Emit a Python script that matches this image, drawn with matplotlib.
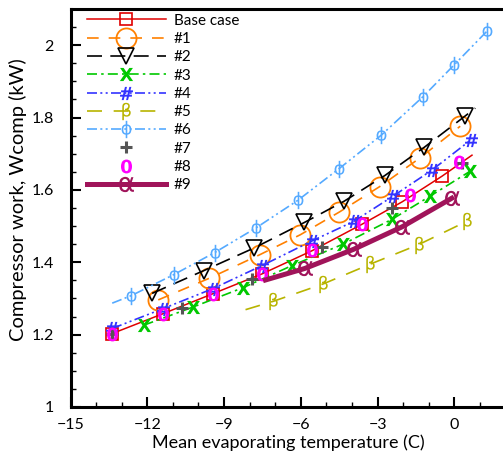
import numpy as np
import matplotlib
matplotlib.use("Agg")
import matplotlib.pyplot as plt
from matplotlib.ticker import MultipleLocator

plt.rcParams['font.family'] = ['Lato', 'DejaVu Sans']
plt.rcParams['mathtext.fontset'] = 'custom'
plt.rcParams['mathtext.rm'] = 'DejaVu Sans'
plt.rcParams['mathtext.bf'] = 'DejaVu Sans:bold'
plt.rcParams['mathtext.it'] = 'DejaVu Sans:italic'

# data (x = mean evaporating temperature, y = compressor work)
base_x = [-13.37, -11.38, -9.44, -7.51, -5.56, -3.61, -2.04, -0.48, 0.69]
base_y = [1.203, 1.258, 1.313, 1.368, 1.432, 1.505, 1.567, 1.638, 1.696]

c1_x = [-11.57, -9.57, -7.60, -6.02, -4.49, -2.92, -1.33, 0.23]
c1_y = [1.296, 1.356, 1.421, 1.476, 1.539, 1.609, 1.689, 1.776]

c2_x = [-11.81, -9.79, -7.81, -5.86, -4.30, -2.71, -1.17, 0.40, 0.82]
c2_y = [1.314, 1.377, 1.440, 1.510, 1.569, 1.640, 1.718, 1.803, 1.826]

c3_x = [-12.14, -10.22, -8.25, -6.34, -4.35, -2.43, -0.94, 0.625]
c3_y = [1.226, 1.276, 1.330, 1.391, 1.450, 1.519, 1.583, 1.652]

c4_x = [-13.37, -11.38, -9.44, -7.51, -5.56, -3.93, -2.39, -0.87, 0.66]
c4_y = [1.217, 1.272, 1.327, 1.391, 1.459, 1.513, 1.583, 1.655, 1.739]

c5_x = [-8.16, -7.08, -5.13, -3.28, -1.39, 0.51]
c5_y = [1.269, 1.292, 1.340, 1.395, 1.449, 1.514]

c6_x = [-13.37, -12.62, -10.96, -9.36, -7.75, -6.12, -4.50, -2.86, -1.22, 0.0, 1.28]
c6_y = [1.287, 1.308, 1.366, 1.427, 1.495, 1.571, 1.659, 1.751, 1.858, 1.946, 2.039]

c7_x = [-13.37, -10.64, -7.90, -5.17, -2.43, 0.30]
c7_y = [1.203, 1.275, 1.354, 1.441, 1.549, 1.675]

c8_x = [-13.37, -11.38, -9.44, -7.51, -5.56, -3.61, -1.72, 0.20]
c8_y = [1.203, 1.258, 1.313, 1.368, 1.434, 1.505, 1.585, 1.677]

c9_x = [-7.38, -5.84, -3.93, -2.04, -0.10]
c9_y = [1.351, 1.383, 1.436, 1.498, 1.577]

fig = plt.figure(figsize=(5.03, 4.57), dpi=100)
ax = fig.add_axes([70.5 / 503, 50 / 457, 435 / 503, 398 / 457])

ax.plot(base_x, base_y, color='#e00000', lw=1.1, marker='s', ms=8, mfc='none',
        mec='#e00000', mew=1.2, markevery=list(range(8)), label='Base case')
ax.plot(c1_x, c1_y, color='#ff8000', lw=1.2, ls=(0, (7, 6)), marker='o', ms=14.5,
        mfc='none', mec='#ff8000', mew=1.3, label='#1')
ax.plot(c2_x, c2_y, color='black', lw=1.2, ls=(0, (9, 5)), marker='v', ms=12,
        mfc='none', mec='black', mew=1.2, markevery=list(range(8)), label='#2')
ax.plot(c3_x, c3_y, color='#00c800', lw=1.2, ls=(0, (6, 2.5, 1.5, 2.5)),
        marker='$\\mathbf{X}$', ms=9.5, mec='none', mfc='#00c800', label='#3')
ax.plot(c4_x, c4_y, color='#3333ff', lw=1.2, ls=(0, (6, 2, 1.2, 2, 1.2, 2)),
        marker='$\\mathbf{\\#}$', ms=9.5, mec='none', mfc='#3333ff', label='#4')
ax.plot(c5_x, c5_y, color='#b8b400', lw=1.2, ls=(0, (9, 7)), marker='$\\mathrm{β}$',
        ms=12.5, mec='none', mfc='#b8b400', markevery=list(range(1, 6)), label='#5')
ax.plot(c6_x, c6_y, color='#55aaff', lw=1.2, ls=(0, (6, 2, 1.2, 2, 1.2, 2)),
        marker='$\\mathrm{ϕ}$', ms=12.5, mec='none', mfc='#55aaff',
        markevery=list(range(1, 11)), label='#6')
ax.plot(c7_x, c7_y, ls='none', marker='+', ms=8, mew=2.2, color='#555555', label='#7')
ax.plot(c8_x, c8_y, ls='none', marker='$\\mathbf{0}$', ms=10, mec='none',
        mfc='#ff00ff', label='#8')
ax.plot(c9_x, c9_y, color='#a0145a', lw=3.6, marker='$\\mathrm{α}$', ms=11,
        mec='none', mfc='#a0145a', markevery=list(range(1, 5)), label='#9')

ax.set_xlim(-15, 2)
ax.set_ylim(1, 2.1)
ax.xaxis.set_major_locator(MultipleLocator(3))
ax.xaxis.set_minor_locator(MultipleLocator(1))
ax.yaxis.set_major_locator(MultipleLocator(0.2))
ax.yaxis.set_minor_locator(MultipleLocator(0.05))
ax.yaxis.set_major_formatter(plt.FuncFormatter(lambda v, p: f"{v:g}"))
ax.tick_params(which='major', direction='in', length=7, width=1.5, labelsize=11.5, pad=8)
ax.tick_params(which='minor', direction='in', length=3.5, width=1.0)
ax.tick_params(axis='y', which='major', pad=12)
for s in ax.spines.values():
    s.set_linewidth(2.2)

ax.set_xlabel('Mean evaporating temperature (C)', fontsize=13, labelpad=2)
ax.set_ylabel('Compressor work, Wcomp (kW)', fontsize=14.5)
ax.yaxis.set_label_coords(-0.10, 0.52)

ax.legend(loc='upper left', bbox_to_anchor=(0.037, 0.988), frameon=False,
          numpoints=1, fontsize=11, handlelength=5.2, handletextpad=0.5,
          labelspacing=0.28, borderpad=0, borderaxespad=0)

fig.savefig('out.png', dpi=100)
